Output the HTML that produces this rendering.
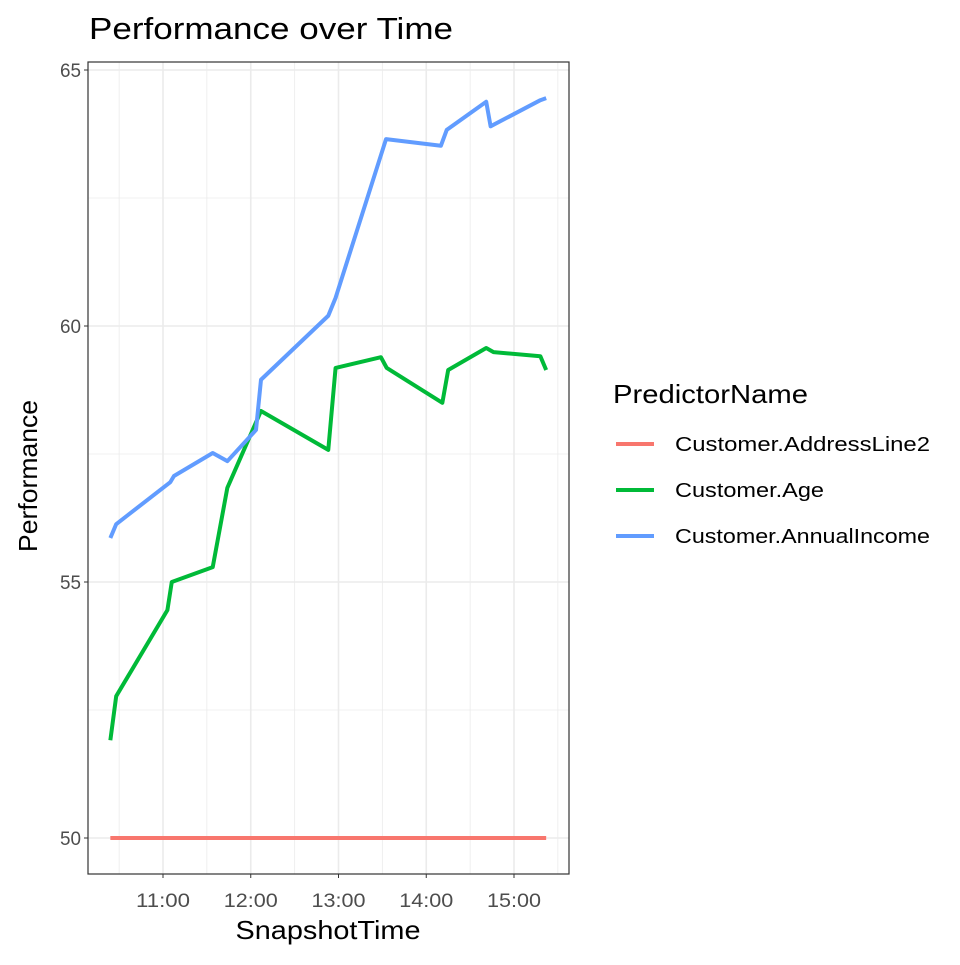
<!DOCTYPE html>
<html><head><meta charset="utf-8"><style>
body{margin:0;background:#fff;font-family:"Liberation Sans",sans-serif}
</style></head><body>
<svg id="chart" width="960" height="960" xmlns="http://www.w3.org/2000/svg" style="font-family:'Liberation Sans',sans-serif"></svg>
<script>
// times in minutes after 10:00
const blueTimes=[24,28,65,67.5,94,104,123.6,127,173,178,212.5,250,254,281,284,318,322];
const blueValues=[55.86,56.13,56.95,57.07,57.52,57.36,57.97,58.95,60.2,60.55,63.65,63.52,63.83,64.38,63.9,64.41,64.45];
const greenTimes=[24,28,63,66,94,104,127,173,178,209,213,251,255,281,286,318,322];
const greenValues=[51.91,52.77,54.45,55.0,55.29,56.84,58.34,57.58,59.18,59.39,59.18,58.5,59.14,59.57,59.49,59.41,59.14];
const redTimes=[24,322];
const redValues=[50,50];
const yTicks=[50,55,60,65];
const xTicks=[60,120,180,240,300];
const xTickLabels=["11:00","12:00","13:00","14:00","15:00"];
const seriesNames=["Customer.AddressLine2","Customer.Age","Customer.AnnualIncome"];
const seriesColors=["#F8766D","#00BA38","#619CFF"];
const legendWidths=[255,149,255];

const svg=document.getElementById('chart');
const NS="http://www.w3.org/2000/svg";
const L=88,R=569,T=62,B=874;
const x=t=>163+(t-60)*87.75/60;
const y=v=>838-(v-50)*51.2;
function el(tag,attrs,parent){const e=document.createElementNS(NS,tag);for(const k in attrs)e.setAttribute(k,attrs[k]);(parent||svg).appendChild(e);return e;}

for(let v=47.5;v<=67.5;v+=5){if(y(v)>T&&y(v)<B){const g=el('line',{x1:L,x2:R,y1:y(v),y2:y(v),stroke:'#ebebeb','stroke-width':0.8});

}}
for(let t=30;t<=330;t+=60){if(x(t)>L&&x(t)<R){const g=el('line',{x1:x(t),x2:x(t),y1:T,y2:B,stroke:'#ebebeb','stroke-width':0.8});

}}
yTicks.forEach(v=>{const g=el('line',{x1:L,x2:R,y1:y(v),y2:y(v),stroke:'#ebebeb','stroke-width':1.6});


el('line',{x1:L-4,x2:L,y1:y(v),y2:y(v),stroke:'#333','stroke-width':1});
const tx=el('text',{x:L-7,y:y(v)+7,'text-anchor':'end','font-size':19,fill:'#4d4d4d',textLength:21,lengthAdjust:'spacingAndGlyphs'});tx.textContent=v;

});
xTicks.forEach((t,i)=>{const g=el('line',{x1:x(t),x2:x(t),y1:T,y2:B,stroke:'#ebebeb','stroke-width':1.6});


el('line',{x1:x(t),x2:x(t),y1:B,y2:B+4,stroke:'#333','stroke-width':1});
const tx=el('text',{x:x(t),y:B+33,'text-anchor':'middle','font-size':19,fill:'#4d4d4d',textLength:54,lengthAdjust:'spacingAndGlyphs'});tx.textContent=xTickLabels[i];

});
[[redTimes,redValues],[greenTimes,greenValues],[blueTimes,blueValues]].forEach((s,i)=>{
const p=el('polyline',{points:s[0].map((t,j)=>x(t)+','+y(s[1][j])).join(' '),fill:'none',stroke:seriesColors[i],'stroke-width':4,'stroke-linejoin':'round'});

});
const fr=el('rect',{x:L,y:T,width:R-L,height:B-T,fill:'none',stroke:'#333','stroke-width':1.2});


let t=el('text',{x:89,y:39,'font-size':31,fill:'#000',textLength:364,lengthAdjust:'spacingAndGlyphs'});t.textContent='Performance over Time';


t=el('text',{x:328,y:939,'text-anchor':'middle','font-size':26,fill:'#000',textLength:185,lengthAdjust:'spacingAndGlyphs'});t.textContent='SnapshotTime';


t=el('text',{x:0,y:0,'text-anchor':'middle','font-size':26,fill:'#000',textLength:152,lengthAdjust:'spacingAndGlyphs',transform:'translate(37,476) rotate(-90)'});t.textContent='Performance';


t=el('text',{x:613,y:403,'font-size':26,fill:'#000',textLength:195,lengthAdjust:'spacingAndGlyphs'});t.textContent='PredictorName';


seriesNames.forEach((n,i)=>{const cy=444+i*46;
const g=el('g',{});


el('line',{x1:616,x2:654,y1:cy,y2:cy,stroke:seriesColors[i],'stroke-width':4},g);
const tx=el('text',{x:675,y:cy+7,'font-size':20,fill:'#000',textLength:legendWidths[i],lengthAdjust:'spacingAndGlyphs'},g);tx.textContent=n;});
</script>
</body></html>
